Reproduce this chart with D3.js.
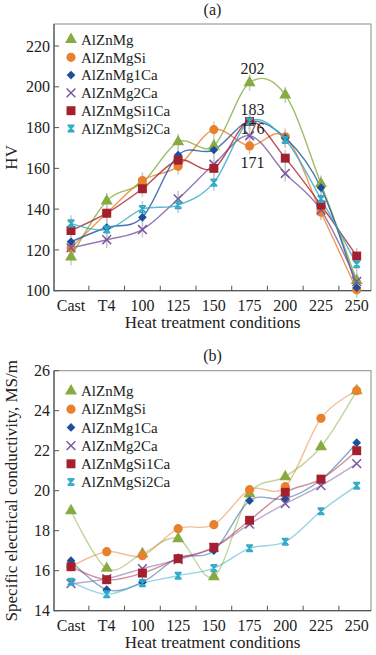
<!DOCTYPE html>
<html>
<head>
<meta charset="utf-8">
<script src="https://cdn.jsdelivr.net/npm/d3@7"></script>
<style>
  body { margin:0; background:#fff; }
  svg text { font-family:"Liberation Serif","DejaVu Serif",serif; fill:#222; }
</style>
</head>
<body>
<div id="chart"></div>
<script>
// ---- data ----
const categories = ["Cast","T4","100","125","150","175","200","225","250"];
const seriesNames = ["AlZnMg","AlZnMgSi","AlZnMg1Ca","AlZnMg2Ca","AlZnMgSi1Ca","AlZnMgSi2Ca"];

// (a) hardness HV
const hvAlZnMg      = [116.5, 144, 153, 173, 171, 202, 196, 152.5, 105];
const hvAlZnMgSi    = [121, 138, 154, 161, 179, 171, 175.5, 138.5, 100.5];
const hvAlZnMg1Ca   = [124, 131, 136, 166.5, 169, 183, 175, 150.5, 101.5];
const hvAlZnMg2Ca   = [121, 125, 130, 145, 162, 176, 157.5, 139.5, 104.5];
const hvAlZnMgSi1Ca = [129.5, 138, 150, 164, 160, 183, 165, 142, 117];
const hvAlZnMgSi2Ca = [133, 130, 140, 142, 153, 183, 174, 145, 113];
const hvError = 4;
const hvTicks = [100,120,140,160,180,200,220];
const hvNotes = [ {cat:"175", text:"202", v:202, dy:-9}, {cat:"175", text:"183", v:183, dy:-6},
                  {cat:"175", text:"176", v:176, dy:-2}, {cat:"175", text:"171", v:171, dy:22} ];

// (b) conductivity MS/m
const ecAlZnMg      = [19.0, 16.12, 16.85, 17.6, 15.7, 19.85, 20.7, 22.2, 25.0];
const ecAlZnMgSi    = [16.2, 16.95, 16.75, 18.1, 18.3, 20.05, 20.2, 23.62, 25.0];
const ecAlZnMg1Ca   = [16.5, 15.05, 15.42, 16.65, 17.0, 19.5, 19.6, 20.55, 22.4];
const ecAlZnMg2Ca   = [15.35, 15.6, 16.1, 16.55, 17.15, 18.33, 19.35, 20.25, 21.35];
const ecAlZnMgSi1Ca = [16.2, 15.55, 15.88, 16.6, 17.17, 18.52, 19.92, 20.58, 22.0];
const ecAlZnMgSi2Ca = [15.45, 14.82, 15.38, 15.75, 16.13, 17.12, 17.45, 18.97, 20.25];
const ecTicks = [14,16,18,20,22,24,26];

const colors = ["#86ac41","#e8802e","#1b4f9c","#7a57a0","#a4202e","#2fa9c6"];

// ---- svg ----
const W = 376, H = 655;
const svg = d3.select("#chart").append("svg").attr("width",W).attr("height",H);

const x = d3.scalePoint().domain(categories).range([71, 356.7]);
const left = 54, right = 371;

// custom cyan marker (x with caps)
const symbolHourglass = {
  draw(ctx, size) {
    const r = Math.sqrt(size)/2;
    ctx.moveTo(-r,-r); ctx.lineTo(r,r);
    ctx.moveTo(r,-r); ctx.lineTo(-r,r);
    ctx.moveTo(-r,-r); ctx.lineTo(r,-r);
    ctx.moveTo(-r,r); ctx.lineTo(r,r);
    ctx.moveTo(0,-r); ctx.lineTo(0,r);
  }
};
const markerDefs = [
  {type:d3.symbolTriangle, size:62, filled:true},
  {type:d3.symbolCircle,   size:66, filled:true},
  {type:d3.symbolSquare,   size:38, filled:true, rot:45},
  {type:d3.symbolX,        size:52, filled:false},
  {type:d3.symbolSquare,   size:80, filled:true},
  {type:symbolHourglass,   size:44, filled:false}
];

function drawMarker(g, i, cx, cy) {
  const m = markerDefs[i];
  const p = g.append("path")
    .attr("d", d3.symbol().type(m.type).size(m.size)())
    .attr("transform", `translate(${cx},${cy})` + (m.rot ? ` rotate(${m.rot})` : ""));
  if (m.filled) p.attr("fill", colors[i]);
  else p.attr("fill","none").attr("stroke", colors[i]).attr("stroke-width", 1.5);
}

function panel(opts) {
  const {top, bottom, domain, ticks, series, title, yLabel, titleY, legendY, legendStep, lineOpacity, err, notes} = opts;
  const y = d3.scaleLinear().domain(domain).range([bottom, top]);
  const g = svg.append("g");

  g.append("text").attr("x", (left+right)/2).attr("y", titleY)
    .attr("text-anchor","middle").style("font-size","16px").text(title);

  // frame
  g.append("rect").attr("x",left).attr("y",top).attr("width",right-left).attr("height",bottom-top)
    .attr("fill","none").attr("stroke","#8a8a8a").attr("stroke-width",1);
  g.append("path").attr("d",`M${left},${top}V${bottom}H${right}`)
    .attr("fill","none").attr("stroke","#555").attr("stroke-width",1.2);

  // y ticks
  ticks.forEach(t => {
    g.append("line").attr("x1",left).attr("x2",left+5).attr("y1",y(t)).attr("y2",y(t))
      .attr("stroke","#555");
    g.append("text").attr("x",left-4).attr("y",y(t)).attr("dy","0.35em")
      .attr("text-anchor","end").style("font-size","16px").text(t);
  });

  // x ticks between categories
  for (let i=0;i<categories.length-1;i++){
    const xm = (x(categories[i])+x(categories[i+1]))/2;
    g.append("line").attr("x1",xm).attr("x2",xm).attr("y1",bottom).attr("y2",bottom-5).attr("stroke","#555");
  }
  categories.forEach(c => {
    g.append("text").attr("x",x(c)).attr("y",bottom+20.5)
      .attr("text-anchor","middle").style("font-size","16px").text(c);
  });

  g.append("text").attr("x",(left+right)/2).attr("y",bottom+37.5)
    .attr("text-anchor","middle").style("font-size","17px").text("Heat treatment conditions");

  g.append("text").attr("transform",`translate(17,${(top+bottom)/2}) rotate(-90)`)
    .attr("text-anchor","middle").style("font-size","17px").text(yLabel);

  const line = d3.line().x((d,i)=>x(categories[i])).y(d=>y(d)).curve(d3.curveCardinal.tension(0));

  // error bars
  if (err) series.forEach(s => s.forEach((v,i) => {
    g.append("line").attr("x1",x(categories[i])).attr("x2",x(categories[i]))
      .attr("y1",y(v-err)).attr("y2",y(v+err)).attr("stroke","#c8c8c8").attr("stroke-width",1.5);
  }));

  series.forEach((s,k) => {
    g.append("path").attr("d",line(s)).attr("fill","none")
      .attr("stroke",colors[k]).attr("stroke-opacity",lineOpacity).attr("stroke-width",1.4);
  });
  series.forEach((s,k) => s.forEach((v,i) => drawMarker(g,k,x(categories[i]),y(v))));

  if (notes) notes.forEach(n => {
    g.append("text").attr("x",x(n.cat)+3).attr("y",y(n.v)+n.dy)
      .attr("text-anchor","middle").style("font-size","16px").text(n.text);
  });

  // legend
  seriesNames.forEach((name,k) => {
    const ly = legendY + k*legendStep;
    drawMarker(g,k,71,ly);
    g.append("text").attr("x",81).attr("y",ly).attr("dy","0.35em").style("font-size","15px").text(name);
  });
}

panel({
  top:24, bottom:290.7, domain:[100,230.8], ticks:hvTicks,
  series:[hvAlZnMg,hvAlZnMgSi,hvAlZnMg1Ca,hvAlZnMg2Ca,hvAlZnMgSi1Ca,hvAlZnMgSi2Ca],
  title:"(a)", titleY:15, yLabel:"HV", legendY:39.5, legendStep:17.8, lineOpacity:0.8,
  err:hvError, notes:hvNotes
});
panel({
  top:370.7, bottom:610.7, domain:[14,26], ticks:ecTicks,
  series:[ecAlZnMg,ecAlZnMgSi,ecAlZnMg1Ca,ecAlZnMg2Ca,ecAlZnMgSi1Ca,ecAlZnMgSi2Ca],
  title:"(b)", titleY:361, yLabel:"Specific electrical conductivity, MS/m",
  legendY:391, legendStep:18.2, lineOpacity:0.5, err:null, notes:null
});
</script>
</body>
</html>
